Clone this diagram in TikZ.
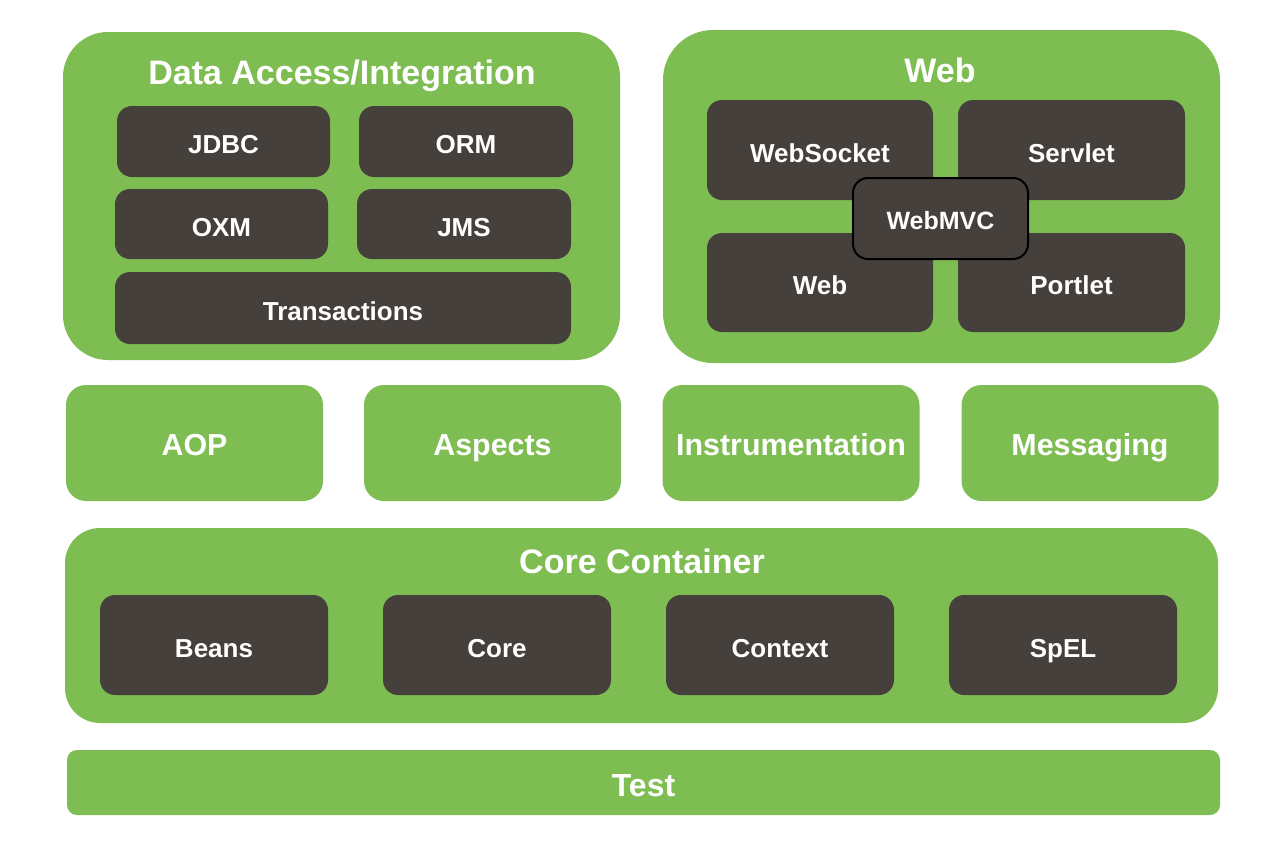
\documentclass[tikz,border=0pt]{standalone}
\usepackage{fontspec}
\setmainfont{Liberation Sans}
\definecolor{sgreen}{HTML}{7EBD52}
\definecolor{sdark}{HTML}{45403C}
\begin{document}
\begin{tikzpicture}[x=1pt,y=-1pt,
  every node/.style={inner sep=0pt, outer sep=0pt, text=white, font=\bfseries},
  bigbox/.style={fill=sgreen, draw=none, rounded corners=#1, anchor=center},
  greenbox/.style={fill=sgreen, draw=none, rounded corners=20pt, minimum width=257pt, minimum height=116pt,
     font=\fontsize{30.4}{30}\selectfont\bfseries, text height=25.5pt, text depth=0pt},
  darkbox/.style={fill=sdark, draw=none, rounded corners=15pt,
     font=\fontsize{26}{26}\selectfont\bfseries, text height=24pt, text depth=0pt},
  title/.style={font=\fontsize{34}{34}\selectfont\bfseries, text height=24.4pt, text depth=0pt},
  mvcbox/.style={fill=sdark, draw=black, line width=2pt, rounded corners=15pt,
     font=\fontsize{25}{25}\selectfont\bfseries, text height=21pt, text depth=0pt}
]
\useasboundingbox[fill=white] (0,0) rectangle (1288,846);

% Data Access / Integration
\node[bigbox=45pt, minimum width=557pt, minimum height=328pt] (da) at (341.5,196) {};
\node[title] (datitle) at (342,72) {Data Access/Integration};
\node[darkbox, minimum width=213pt, minimum height=71pt] (jdbc) at (223.5,141.5) {JDBC};
\node[darkbox, minimum width=214pt, minimum height=71pt] (orm) at (466,141.5) {ORM};
\node[darkbox, minimum width=213pt, minimum height=70pt] (oxm) at (221.5,224) {OXM};
\node[darkbox, minimum width=214pt, minimum height=70pt] (jms) at (464,224) {JMS};
\node[darkbox, minimum width=456pt, minimum height=72pt] (tx) at (343,308) {Transactions};

% Web
\node[bigbox=50pt, minimum width=557pt, minimum height=333pt] (web) at (941.5,196.5) {};
\node[title] (webtitle) at (940,70) {Web};
\node[darkbox, minimum width=226pt, minimum height=100pt] (websocket) at (820,150) {WebSocket};
\node[darkbox, minimum width=227pt, minimum height=100pt] (servlet) at (1071.5,150) {Servlet};
\node[darkbox, minimum width=226pt, minimum height=99pt] (webm) at (820,282.5) {Web};
\node[darkbox, minimum width=227pt, minimum height=99pt] (portlet) at (1071.5,282.5) {Portlet};
\node[mvcbox, minimum width=175pt, minimum height=81pt] (webmvc) at (940.5,218.5) {WebMVC};

% Middle row
\node[greenbox] (aop) at (194.5,443) {AOP};
\node[greenbox] (aspects) at (492.5,443) {Aspects};
\node[greenbox] (instr) at (791,443) {Instrumentation};
\node[greenbox] (msg) at (1090,443) {Messaging};

% Core Container
\node[bigbox=35pt, minimum width=1153pt, minimum height=195pt] (cc) at (641.5,625.5) {};
\node[title] (cctitle) at (642,561) {Core Container};
\node[darkbox, minimum width=228pt, minimum height=100pt] (beans) at (214,645) {Beans};
\node[darkbox, minimum width=228pt, minimum height=100pt] (core) at (497,645) {Core};
\node[darkbox, minimum width=228pt, minimum height=100pt] (context) at (780,645) {Context};
\node[darkbox, minimum width=228pt, minimum height=100pt] (spel) at (1063,645) {SpEL};

% Test
\node[bigbox=10pt, minimum width=1153pt, minimum height=65pt, title, font=\fontsize{32}{32}\selectfont\bfseries, text height=27pt] (test) at (643.5,782.5) {Test};
\end{tikzpicture}
\end{document}
